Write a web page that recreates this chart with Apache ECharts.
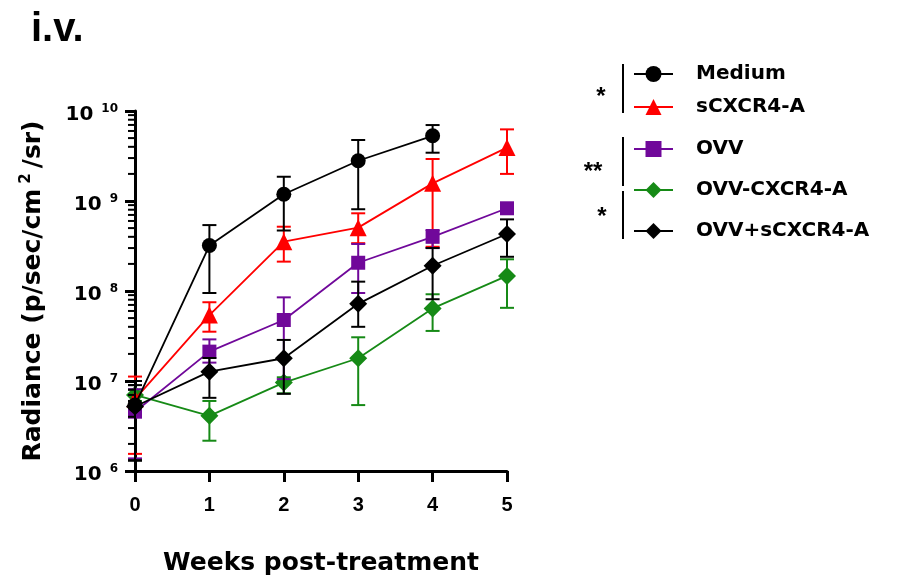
<!DOCTYPE html>
<html><head><meta charset="utf-8">
<script src="https://cdn.jsdelivr.net/npm/echarts@6/dist/echarts.min.js"></script>
<style>html,body{margin:0;padding:0;background:#fff}#c{width:899px;height:579px}</style>
</head><body><div id="c"></div>
<script>
const weeks = [0, 1, 2, 3, 4, 5];
const seriesNames = ['Medium', 'sCXCR4-A', 'OVV', 'OVV-CXCR4-A', 'OVV+sCXCR4-A'];

const mediumMean = [5.4e6, 3.2e8, 1.19e9, 2.8e9, 5.3e9, null];
const mediumLow  = [1.3e6, 9.5e7, 4.7e8, 8.1e8, 3.44e9, null];
const mediumHigh = [1.0e7, 5.4e8, 1.86e9, 4.76e9, 6.98e9, null];

const scxcrMean = [6.3e6, 5.4e7, 3.53e8, 5.06e8, 1.57e9, 3.92e9];
const scxcrLow  = [1.55e6, 3.53e7, 2.12e8, 3.4e8, 3.1e8, 2.0e9];
const scxcrHigh = [1.12e7, 7.5e7, 5.18e8, 7.3e8, 2.93e9, 6.25e9];

const ovvMean = [4.56e6, 2.12e7, 4.76e7, 2.06e8, 4.0e8, 8.3e8];
const ovvLow  = [1.38e6, 1.6e7, 1.05e7, 9.5e7, 3.0e8, 7.6e8];
const ovvHigh = [8.1e6, 2.9e7, 8.5e7, 3.33e8, 4.76e8, 9.0e8];

const ovvCxMean = [7.0e6, 4.1e6, 9.6e6, 1.79e7, 6.4e7, 1.47e8];
const ovvCxLow  = [6.0e6, 2.17e6, 7.3e6, 5.4e6, 3.6e7, 6.5e7];
const ovvCxHigh = [8.0e6, 6.0e6, 1.1e7, 3.06e7, 9.2e7, 2.25e8];

const ovvSMean = [5.2e6, 1.27e7, 1.79e7, 7.2e7, 1.91e8, 4.3e8];
const ovvSLow  = [1.32e6, 6.5e6, 7.2e6, 4.0e7, 8.1e7, 2.4e8];
const ovvSHigh = [9.0e6, 1.8e7, 2.86e7, 1.27e8, 3.0e8, 6.25e8];

const yMin = 1e6, yMax = 1e10;
const minorTickValues = [];
for (let e = 6; e < 10; e++) for (let m = 2; m <= 9; m++) minorTickValues.push(m * Math.pow(10, e));

const styles = {
  'Medium':       {color: '#000000', symbol: 'circle',   size: 15, z: 10},
  'sCXCR4-A':     {color: '#ff0000', symbol: 'triangle', size: 17, z: 4},
  'OVV':          {color: '#70089a', symbol: 'rect',     size: 14, z: 6},
  'OVV-CXCR4-A':  {color: '#168a16', symbol: 'diamond',  size: 18, z: 2},
  'OVV+sCXCR4-A': {color: '#000000', symbol: 'diamond',  size: 18, z: 8}
};
const groups = {
  'Medium': [mediumMean, mediumLow, mediumHigh],
  'sCXCR4-A': [scxcrMean, scxcrLow, scxcrHigh],
  'OVV': [ovvMean, ovvLow, ovvHigh],
  'OVV-CXCR4-A': [ovvCxMean, ovvCxLow, ovvCxHigh],
  'OVV+sCXCR4-A': [ovvSMean, ovvSLow, ovvSHigh]
};

function errRender(color) {
  return function (params, api) {
    const x = api.value(0), lo = api.value(1), hi = api.value(2);
    const a = api.coord([x, lo]), b = api.coord([x, hi]);
    const hw = 7, st = {stroke: color, lineWidth: 2};
    return {type: 'group', children: [
      {type: 'line', shape: {x1: a[0], y1: a[1], x2: b[0], y2: b[1]}, style: st},
      {type: 'line', shape: {x1: a[0] - hw, y1: a[1], x2: a[0] + hw, y2: a[1]}, style: st},
      {type: 'line', shape: {x1: b[0] - hw, y1: b[1], x2: b[0] + hw, y2: b[1]}, style: st}
    ]};
  };
}

const series = [];
seriesNames.forEach(function (name) {
  const s = styles[name], g = groups[name];
  const lineData = [], errData = [];
  weeks.forEach(function (w, i) {
    if (g[0][i] != null) { lineData.push([w, g[0][i]]); errData.push([w, g[1][i], g[2][i]]); }
  });
  series.push({
    name: name + ' error', type: 'custom', z: s.z, clip: false, silent: true,
    renderItem: errRender(s.color), encode: {x: 0, y: [1, 2]}, data: errData
  });
  series.push({
    name: name, type: 'line', z: s.z + 1, data: lineData,
    symbol: s.symbol, symbolSize: s.size, showAllSymbol: true,
    itemStyle: {color: s.color}, lineStyle: {color: s.color, width: 1.8},
    emphasis: {disabled: true}, animation: false
  });
});
series.push({
  name: 'minor ticks', type: 'custom', clip: false, silent: true, z: 20,
  data: minorTickValues.map(function (v) { return [0, v]; }),
  encode: {x: 0, y: 1},
  renderItem: function (params, api) {
    const p = api.coord([api.value(0), api.value(1)]);
    return {type: 'line', shape: {x1: p[0] - 7, y1: p[1], x2: p[0], y2: p[1]}, style: {stroke: '#000', lineWidth: 2}};
  }
});

const boldFont = 'DejaVu Sans';
const legendText = {fontFamily: boldFont, fontWeight: 'bold', fontSize: 20, color: '#000', lineHeight: 20, padding: [0, 0, 0, 18]};

const chart = echarts.init(document.getElementById('c'), null, {renderer: 'canvas'});
chart.setOption({
  animation: false,
  backgroundColor: '#fff',
  title: {text: 'i.v.', left: 31, top: 10, padding: 0,
    textStyle: {fontFamily: 'Liberation Sans', fontWeight: 'bold', fontSize: 40, color: '#000'}},
  grid: {left: 135, right: 392, top: 111, bottom: 108, containLabel: false, outerBoundsMode: 'none'},
  legend: [
    {data: ['Medium', 'sCXCR4-A'], orient: 'vertical', left: 633, top: 64, padding: 0,
     itemWidth: 39, itemHeight: 20, itemGap: 13, selectedMode: false, textStyle: legendText},
    {data: ['OVV', 'OVV-CXCR4-A', 'OVV+sCXCR4-A'], orient: 'vertical', left: 633, top: 139, padding: 0,
     itemWidth: 39, itemHeight: 20, itemGap: 21, selectedMode: false, textStyle: legendText}
  ],
  xAxis: {
    type: 'value', min: 0, max: 5, interval: 1,
    name: 'Weeks post-treatment', nameLocation: 'middle', nameGap: 80,
    nameTextStyle: {fontFamily: boldFont, fontWeight: 'bold', fontSize: 25, color: '#000'},
    axisLine: {lineStyle: {color: '#000', width: 3}},
    axisTick: {length: 11, lineStyle: {color: '#000', width: 3}},
    axisLabel: {fontFamily: 'Liberation Sans', fontWeight: 'bold', fontSize: 20, color: '#000', margin: 24},
    splitLine: {show: false}
  },
  yAxis: {
    type: 'log', logBase: 10, min: yMin, max: yMax,
    name: '{t|Radiance (p/sec/cm}{sup|2}{t|/sr)}', nameLocation: 'middle', nameGap: 87, nameRotate: 90,
    nameTextStyle: {
      rich: {
        t: {fontFamily: boldFont, fontWeight: 'bold', fontSize: 25, color: '#000', lineHeight: 30, verticalAlign: 'middle'},
        sup: {fontFamily: boldFont, fontWeight: 'bold', fontSize: 15, color: '#000', lineHeight: 30, verticalAlign: 'middle', padding: [0, 5, 14, 5]}
      }
    },
    axisLine: {show: true, onZero: false, lineStyle: {color: '#000', width: 3}},
    axisTick: {length: 10, lineStyle: {color: '#000', width: 3}},
    axisLabel: {
      margin: 17,
      formatter: function (v) { return '{b|10}{s|' + Math.round(Math.log10(v)) + '}'; },
      rich: {
        b: {fontFamily: boldFont, fontWeight: 'bold', fontSize: 20, color: '#000', lineHeight: 24, verticalAlign: 'middle', padding: [7, 0, 0, 0]},
        s: {fontFamily: boldFont, fontWeight: 'bold', fontSize: 12, color: '#000', lineHeight: 24, verticalAlign: 'middle', padding: [0, 0, 5, 8]}
      }
    },
    splitLine: {show: false}
  },
  graphic: [
    {type: 'line', shape: {x1: 623, y1: 64, x2: 623, y2: 113}, style: {stroke: '#000', lineWidth: 2}},
    {type: 'line', shape: {x1: 623, y1: 137, x2: 623, y2: 186}, style: {stroke: '#000', lineWidth: 2}},
    {type: 'line', shape: {x1: 623, y1: 191, x2: 623, y2: 239}, style: {stroke: '#000', lineWidth: 2}},
    {type: 'text', x: 601, y: 97, style: {text: '*', fontFamily: 'Liberation Sans', fontWeight: 'bold', fontSize: 24, fill: '#000', align: 'center', verticalAlign: 'middle'}},
    {type: 'text', x: 593, y: 172, style: {text: '**', fontFamily: 'Liberation Sans', fontWeight: 'bold', fontSize: 24, fill: '#000', align: 'center', verticalAlign: 'middle'}},
    {type: 'text', x: 602, y: 217, style: {text: '*', fontFamily: 'Liberation Sans', fontWeight: 'bold', fontSize: 24, fill: '#000', align: 'center', verticalAlign: 'middle'}}
  ],
  series: series
});
</script></body></html>
